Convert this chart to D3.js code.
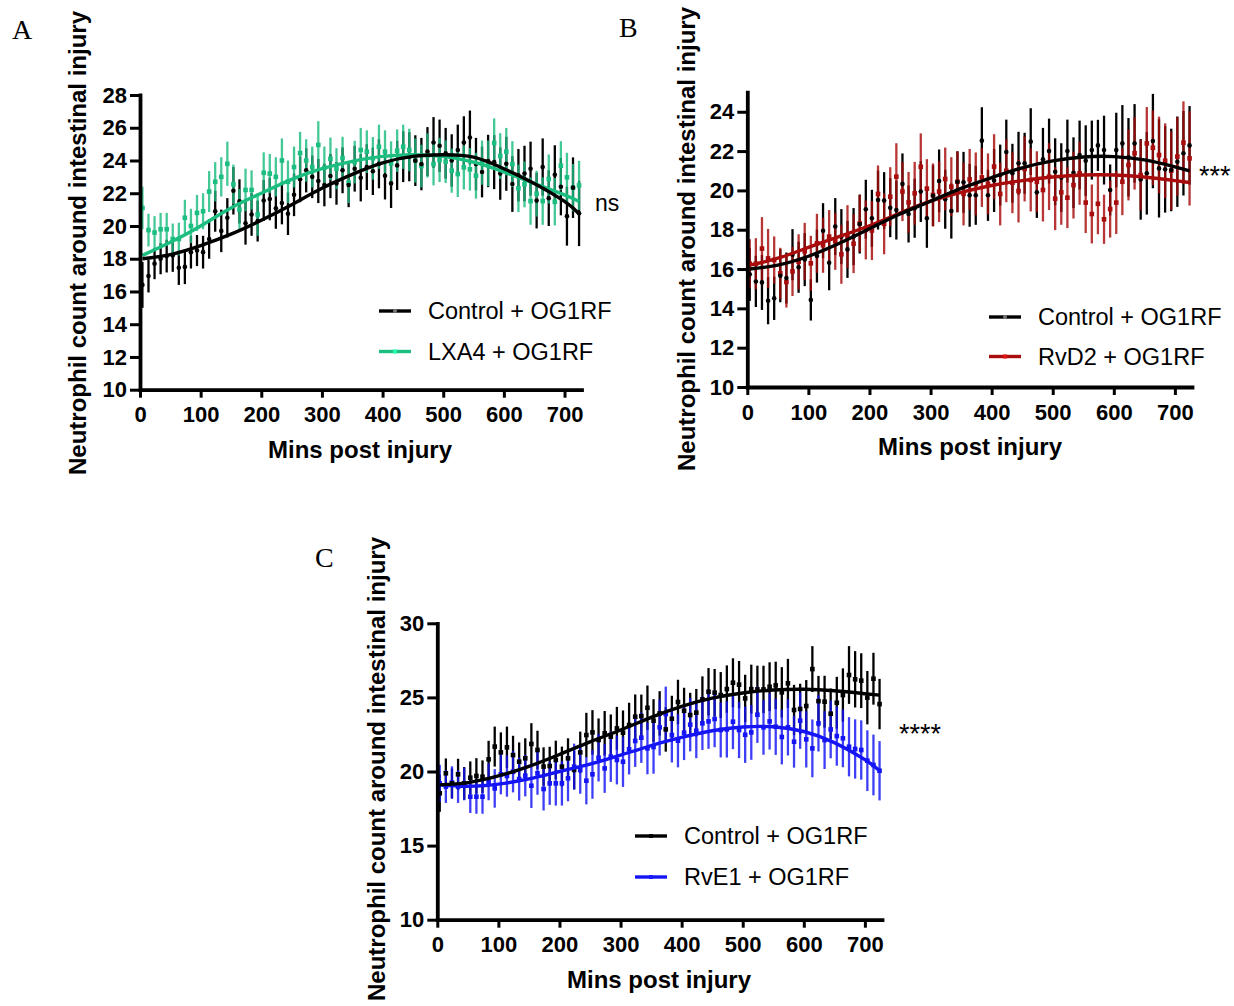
<!DOCTYPE html>
<html>
<head>
<meta charset="utf-8">
<script src="https://cdn.jsdelivr.net/npm/d3@7"></script>
<style>
  body { margin: 0; background: #fff; }
  svg { display: block; }
  text { font-family: "Liberation Sans", Arial, sans-serif; fill: #000; }
  .letter { font-family: "Liberation Serif", "Times New Roman", serif; font-size: 28px; }
  .ytitle, .xtitle { font-weight: bold; font-size: 24px; }
  .tick text { font-weight: bold; font-size: 22px; font-family: "Liberation Sans", Arial, sans-serif; }
  .legend { font-size: 23.5px; }
  .sig { font-size: 23px; }
  .stars { font-size: 27px; }
</style>
</head>
<body>
<svg id="fig" width="1234" height="1006"></svg>
<script>
// Sampling times (minutes after injury), shared by all groups
const minutes = [4, 14, 24, 34, 44, 54, 64, 74, 84, 94, 104, 114, 124, 134, 144, 154, 164, 174, 184, 194,
  204, 214, 224, 234, 244, 254, 264, 274, 284, 294, 304, 314, 324, 334, 344, 354, 364, 374, 384, 394,
  404, 414, 424, 434, 444, 454, 464, 474, 484, 494, 504, 514, 524, 534, 544, 554, 564, 574, 584, 594,
  604, 614, 624, 634, 644, 654, 664, 674, 684, 694, 704, 714, 724];

const xTicks = [0, 100, 200, 300, 400, 500, 600, 700];

// Panel A: Control vs LXA4 (mean, SEM)
const ctrlA = [16.4, 16.94, 17.7, 18.0, 18.16, 18.2, 17.45, 17.5, 18.4, 18.5, 18.4, 19.2, 20.9, 19.7, 20.5,
  22.15, 21.5, 20.16, 20.7, 20.3, 21.56, 21.65, 21.08, 21.4, 20.75, 21.9, 22.85, 23.4, 23.0, 22.75,
  22.5, 23.05, 22.6, 23.4, 22.5, 23.5, 22.95, 23.6, 23.34, 23.8, 23.07, 22.6, 23.7, 24.23, 24.23,
  23.99, 23.78, 24.54, 25.1, 24.9, 24.44, 24.0, 24.64, 25.1, 25.4, 23.78, 23.3, 23.97, 23.9, 23.2,
  23.8, 22.56, 23.1, 23.2, 23.5, 21.55, 23.6, 21.7, 23.13, 22.4, 20.6, 22.34, 20.77];
const ctrlAErr = [1.4, 1.0, 0.95, 0.95, 1.0, 1.0, 1.05, 1.05, 1.0, 0.95,
  1.0, 1.2, 1.25, 1.3, 1.2, 1.45, 1.35, 1.3, 1.3, 1.25,
  1.25, 1.3, 1.25, 1.3, 1.3, 1.3, 1.4, 1.35, 1.3, 1.35,
  1.3, 1.35, 1.3, 1.4, 1.35, 1.4, 1.45, 1.4, 1.45, 1.5,
  1.45, 1.5, 1.5, 1.55, 1.5, 1.55, 1.6, 1.5, 1.55, 1.6,
  1.55, 1.6, 1.55, 1.6, 1.65, 1.6, 1.55, 1.6, 1.65, 1.6,
  1.65, 1.7, 1.6, 1.7, 1.65, 1.7, 1.75, 1.7, 1.8, 1.75,
  1.8, 1.85, 2.0];
const lxa4 = [21.1, 19.75, 19.6, 19.8, 19.8, 19.2, 19.2, 20.5, 20.0, 20.8, 20.9, 22.1, 22.7, 23.0, 23.8,
  22.55, 21.0, 22.2, 22.2, 20.7, 23.25, 23.2, 23.0, 24.0, 22.7, 23.6, 24.45, 24.0, 23.6, 24.95,
  23.55, 24.1, 23.5, 24.15, 22.65, 23.9, 24.64, 24.54, 24.13, 24.84, 24.54, 23.82, 24.6, 24.84, 24.64,
  24.0, 23.66, 24.31, 23.78, 24.03, 23.93, 23.38, 23.17, 23.58, 23.46, 23.07, 23.87, 23.82, 25.07, 24.27,
  24.54, 23.78, 22.3, 22.54, 21.52, 21.97, 21.52, 22.87, 21.48, 23.68, 22.97, 22.34, 22.48];
const lxa4Err = [1.3, 1.0, 1.0, 1.0, 1.0, 0.95, 1.0, 1.1, 1.05, 1.1,
  1.1, 1.25, 1.2, 1.2, 1.35, 1.2, 1.25, 1.3, 1.2, 1.3,
  1.25, 1.2, 1.2, 1.35, 1.3, 1.25, 1.3, 1.3, 1.25, 1.45,
  1.3, 1.3, 1.25, 1.3, 1.25, 1.3, 1.35, 1.3, 1.3, 1.35,
  1.3, 1.35, 1.3, 1.35, 1.3, 1.35, 1.3, 1.35, 1.3, 1.35,
  1.3, 1.35, 1.4, 1.35, 1.3, 1.4, 1.35, 1.4, 1.5, 1.4,
  1.45, 1.4, 1.45, 1.4, 1.45, 1.4, 1.45, 1.5, 1.45, 1.5,
  1.5, 1.45, 1.5];

// Panel B: Control vs RvD2
const ctrlB = [15.73, 15.37, 15.32, 14.39, 14.51, 15.66, 15.54, 16.73, 16.09, 16.48, 14.43, 16.66, 17.95,
  16.32, 18.16, 17.65, 17.0, 17.65, 18.29, 19.04, 18.58, 19.51, 19.48, 19.12, 19.0, 20.33, 18.8,
  19.09, 19.94, 18.58, 19.73, 20.48, 19.55, 18.95, 20.44, 20.41, 19.75, 19.75, 22.53, 19.75, 20.5,
  20.78, 21.95, 20.87, 21.38, 21.38, 22.48, 19.9, 21.58, 22.0, 20.95, 20.65, 22.0, 20.9, 21.8, 21.51,
  22.05, 22.29, 22.05, 20.02, 22.05, 22.39, 21.68, 22.39, 20.56, 20.87, 22.51, 21.12, 21.07, 21.04,
  21.46, 21.89, 22.29];
const ctrlBErr = [1.35, 1.3, 1.4, 1.2, 1.1, 1.35, 1.3, 1.3, 1.3, 1.35,
  1.05, 1.35, 1.4, 1.4, 1.45, 1.4, 1.45, 1.45, 1.5, 1.5,
  1.45, 1.5, 1.45, 1.5, 1.5, 1.55, 1.45, 1.5, 1.55, 1.5,
  1.55, 1.6, 1.5, 1.4, 1.55, 1.55, 1.6, 1.5, 1.7, 1.3,
  1.6, 1.55, 1.65, 1.5, 1.6, 1.55, 1.7, 1.3, 1.6, 1.65,
  1.7, 1.75, 1.6, 1.8, 1.75, 1.8, 1.5, 1.3, 1.75, 1.3,
  1.9, 1.95, 2.0, 2.0, 2.05, 2.1, 2.4, 2.5, 2.2, 2.1,
  2.3, 2.15, 2.0];
const rvd2 = [16.27, 16.27, 17.04, 16.54, 16.46, 15.78, 15.34, 15.88, 16.37, 16.9, 16.29, 17.31, 17.21,
  17.65, 17.41, 16.75, 17.65, 17.29, 18.32, 17.99, 17.96, 19.82, 18.3, 19.68, 20.7, 19.94, 19.39,
  19.85, 21.2, 20.09, 19.77, 19.94, 20.58, 20.19, 20.44, 19.82, 20.56, 20.33, 20.66, 20.33, 21.21,
  19.82, 21.0, 20.39, 19.97, 21.09, 20.53, 20.44, 20.02, 20.7, 19.58, 19.9, 19.63, 20.27, 20.87,
  19.38, 18.8, 19.32, 18.53, 19.05, 19.38, 20.44, 21.29, 21.89, 20.78, 22.39, 22.17, 21.8, 21.51,
  21.0, 21.72, 22.43, 21.63];
const rvd2Err = [1.25, 1.3, 1.6, 1.5, 1.2, 1.3, 1.3, 1.25, 1.4, 1.45,
  1.4, 1.5, 1.4, 1.35, 1.45, 1.5, 1.6, 1.5, 1.45, 1.5,
  1.5, 1.45, 1.55, 1.5, 1.7, 1.5, 1.55, 1.6, 1.7, 1.5,
  1.6, 1.55, 1.6, 1.5, 1.55, 1.6, 1.55, 1.6, 1.5, 1.55,
  1.65, 1.6, 1.6, 1.55, 1.6, 1.65, 1.6, 1.55, 1.6, 1.7,
  1.6, 1.65, 1.55, 1.7, 1.6, 1.55, 1.5, 1.55, 1.25, 1.45,
  1.6, 1.7, 1.8, 1.85, 1.8, 1.85, 1.9, 1.95, 1.9, 2.0,
  2.0, 2.1, 2.4];

// Panel C: Control vs RvE1
const ctrlC = [18.53, 19.88, 19.2, 19.81, 19.2, 19.58, 19.7, 19.65, 20.82, 21.68, 21.29, 21.63, 21.11,
  20.66, 20.89, 21.86, 21.45, 20.33, 20.37, 20.78, 20.33, 20.89, 20.1, 21.29, 22.46, 22.64, 22.13,
  22.58, 22.35, 22.91, 22.62, 23.14, 23.7, 23.74, 24.3, 23.43, 23.92, 22.84, 23.56, 24.69, 24.1,
  23.81, 23.97, 24.87, 25.38, 25.32, 25.16, 25.56, 25.99, 25.86, 24.93, 25.56, 25.54, 25.54, 25.72,
  25.81, 25.34, 25.95, 24.15, 24.22, 24.42, 26.91, 24.75, 24.71, 23.9, 24.64, 25.16, 26.51, 26.22,
  26.13, 24.98, 26.26, 24.55];
const ctrlCErr = [1.25, 1.0, 1.0, 1.05, 1.1, 1.1, 1.2, 1.1, 1.25, 1.35,
  1.35, 1.4, 1.3, 1.3, 1.35, 1.4, 1.3, 1.3, 1.3, 1.3,
  1.35, 1.35, 1.3, 1.4, 1.5, 1.5, 1.45, 1.5, 1.5, 1.45,
  1.5, 1.5, 1.5, 1.45, 1.5, 1.45, 1.5, 1.5, 1.55, 1.5,
  1.55, 1.5, 1.6, 1.55, 1.6, 1.6, 1.55, 1.6, 1.65, 1.6,
  1.6, 1.65, 1.6, 1.6, 1.65, 1.6, 1.7, 1.65, 1.7, 1.7,
  1.75, 1.55, 1.7, 1.75, 1.7, 1.75, 1.8, 1.95, 1.9, 1.85,
  1.8, 1.75, 1.7];
const rve1 = [19.2, 18.98, 19.25, 18.98, 19.16, 18.3, 18.3, 18.3, 19.31, 18.86, 19.81, 19.7, 19.99,
  19.49, 19.72, 19.04, 19.88, 18.82, 19.2, 19.2, 19.2, 19.54, 20.33, 20.1, 19.38, 19.81, 20.93,
  20.21, 21.0, 20.78, 20.66, 21.5, 22.06, 22.28, 21.56, 21.65, 22.98, 23.88, 22.46, 22.08, 22.62,
  23.16, 22.75, 23.25, 23.38, 23.54, 22.8, 22.84, 23.36, 22.8, 22.48, 22.64, 23.83, 22.98, 23.38,
  23.02, 22.33, 22.98, 22.01, 23.43, 22.17, 21.56, 23.25, 22.12, 22.84, 22.39, 22.24, 21.67, 21.52,
  21.45, 20.73, 20.44, 20.05];
const rve1Err = [1.25, 1.1, 1.1, 1.1, 1.1, 1.1, 1.15, 1.15, 1.25, 1.3,
  1.35, 1.4, 1.4, 1.45, 1.4, 1.5, 1.45, 1.45, 1.45, 1.5,
  1.5, 1.55, 1.55, 1.6, 1.6, 1.65, 1.6, 1.65, 1.7, 1.65,
  1.7, 1.7, 1.75, 1.7, 1.75, 1.8, 1.9, 1.85, 1.85, 1.8,
  1.85, 1.8, 1.85, 1.8, 1.85, 1.9, 1.85, 1.9, 1.85, 1.9,
  1.9, 1.85, 1.9, 1.85, 1.9, 1.9, 1.85, 1.9, 1.75, 1.9,
  1.9, 1.95, 1.9, 1.95, 1.95, 2.0, 1.95, 2.0, 2.0, 2.0,
  2.05, 2.05, 2.0];

// Fitted trend curves, sampled along the time axis
const fitMinutes = [4, 50, 100, 150, 200, 250, 300, 350, 400, 450, 500, 550, 600, 650, 700, 724];
const ctrlAFit = [18.0, 18.25, 18.8, 19.5, 20.35, 21.3, 22.3, 23.15, 23.85, 24.25, 24.35, 24.2, 23.5, 22.6, 21.5, 20.75];
const lxa4Fit = [18.2, 19.0, 20.0, 21.1, 22.0, 22.85, 23.5, 23.95, 24.25, 24.35, 24.25, 23.9, 23.3, 22.6, 21.9, 21.5];
const ctrlBFit = [16.0, 16.2, 16.65, 17.3, 18.05, 18.8, 19.45, 20.1, 20.65, 21.15, 21.5, 21.7, 21.72, 21.55, 21.2, 20.99];
const rvd2Fit = [16.2, 16.55, 17.1, 17.65, 18.2, 18.85, 19.45, 19.9, 20.25, 20.5, 20.68, 20.78, 20.78, 20.68, 20.5, 20.4];
const ctrlCFit = [19.1, 19.25, 19.7, 20.35, 21.15, 22.0, 22.8, 23.65, 24.4, 24.95, 25.3, 25.5, 25.55, 25.45, 25.25, 25.15];
const rve1Fit = [19.1, 19.0, 19.15, 19.5, 20.0, 20.5, 21.1, 21.75, 22.3, 22.75, 23.0, 23.02, 22.7, 21.95, 20.8, 20.05];

const yTicksA = [10, 12, 14, 16, 18, 20, 22, 24, 26, 28];
const yTicksB = [10, 12, 14, 16, 18, 20, 22, 24];
const yTicksC = [10, 15, 20, 25, 30];

const yTitle = "Neutrophil count around intestinal injury";
const xTitle = "Mins post injury";

const svg = d3.select("#fig");

function drawPanel(cfg) {
  const x = d3.scaleLinear().domain([0, 728]).range([cfg.left, cfg.right]);
  const y = d3.scaleLinear().domain(cfg.yDomain).range([cfg.bottom, cfg.top]);
  const g = svg.append("g");

  g.append("text").attr("class", "letter")
    .attr("x", cfg.letterX).attr("y", cfg.letterY).text(cfg.letter);

  const control = cfg.series[0], treat = cfg.series[1];
  const rows = s => minutes.map((m, i) => ({ m, v: s.values[i], e: s.err[i] }));

  // error bars: control underneath, treatment on top
  [control, treat].forEach(s => {
    g.append("g").selectAll("line").data(rows(s)).join("line")
      .attr("x1", d => x(d.m)).attr("x2", d => x(d.m))
      .attr("y1", d => y(d.v - d.e)).attr("y2", d => y(d.v + d.e))
      .attr("stroke", s.color).attr("stroke-width", 2.3)
      .attr("opacity", s === treat ? 0.82 : 1);
  });

  // mean markers
  [treat, control].forEach(s => {
    const mg = g.append("g");
    if (s.marker === "circle") {
      mg.selectAll("circle").data(rows(s)).join("circle")
        .attr("cx", d => x(d.m)).attr("cy", d => y(d.v)).attr("r", 2.3)
        .attr("fill", s.color);
    } else {
      mg.selectAll("rect").data(rows(s)).join("rect")
        .attr("x", d => x(d.m) - 2.3).attr("y", d => y(d.v) - 2.3)
        .attr("width", 4.6).attr("height", 4.6).attr("fill", s.color);
    }
  });

  // fitted curves
  const line = d3.line().x(d => x(d[0])).y(d => y(d[1])).curve(d3.curveNatural);
  [treat, control].forEach(s => {
    g.append("path").datum(fitMinutes.map((m, i) => [m, s.fit[i]]))
      .attr("d", line).attr("fill", "none")
      .attr("stroke", s.color).attr("stroke-width", 3.4);
  });

  // axes
  const ya = g.append("g").attr("transform", `translate(${cfg.left},0)`)
    .call(d3.axisLeft(y).tickValues(cfg.yTicks).tickSize(10).tickSizeOuter(0).tickPadding(3));
  const xa = g.append("g").attr("transform", `translate(0,${cfg.bottom})`)
    .call(d3.axisBottom(x).tickValues(xTicks).tickSize(8).tickSizeOuter(0).tickPadding(9));
  [ya, xa].forEach(a => {
    a.select(".domain").attr("stroke", "#000").attr("stroke-width", 3.8).attr("stroke-linecap", "square");
    a.selectAll(".tick line").attr("stroke", "#000").attr("stroke-width", 3);
    a.selectAll(".tick text").attr("fill", "#000");
  });

  g.append("text").attr("class", "ytitle")
    .attr("transform", `translate(${cfg.yTitleX},${cfg.yTitleY}) rotate(-90)`)
    .attr("text-anchor", "middle").text(yTitle);
  g.append("text").attr("class", "xtitle")
    .attr("x", cfg.xTitleX).attr("y", cfg.xTitleY)
    .attr("text-anchor", "middle").text(xTitle);

  // legend
  [control, treat].forEach((s, k) => {
    const ly = cfg.legendY[k];
    g.append("line").attr("x1", cfg.legendX).attr("x2", cfg.legendX + 32)
      .attr("y1", ly).attr("y2", ly).attr("stroke", s.color).attr("stroke-width", 3.4);
    if (s.marker === "circle") {
      g.append("circle").attr("cx", cfg.legendX + 16).attr("cy", ly).attr("r", 2)
        .attr("fill", "#777");
    } else {
      g.append("rect").attr("x", cfg.legendX + 14).attr("y", ly - 2)
        .attr("width", 4).attr("height", 4).attr("fill", d3.color(s.color).brighter(0.8));
    }
    g.append("text").attr("class", "legend")
      .attr("x", cfg.legendX + 49).attr("y", ly + 8).text(s.label);
  });

  g.append("text").attr("class", cfg.sig === "ns" ? "sig" : "stars")
    .attr("x", cfg.sigX).attr("y", cfg.sigY).text(cfg.sig);
}

drawPanel({
  letter: "A", letterX: 12, letterY: 39,
  left: 140, right: 581.5, top: 95, bottom: 389.7,
  yDomain: [10, 28], yTicks: yTicksA,
  yTitleX: 86, yTitleY: 243, xTitleX: 360, xTitleY: 458,
  legendX: 379, legendY: [311, 351.5],
  sig: "ns", sigX: 595, sigY: 211,
  series: [
    { values: ctrlA, err: ctrlAErr, fit: ctrlAFit, color: "#000000", marker: "circle", label: "Control + OG1RF" },
    { values: lxa4, err: lxa4Err, fit: lxa4Fit, color: "#1cbe80", marker: "square", label: "LXA4 + OG1RF" }
  ]
});

drawPanel({
  letter: "B", letterX: 619, letterY: 37,
  left: 747.3, right: 1192, top: 92.1, bottom: 387,
  yDomain: [10, 25], yTicks: yTicksB,
  yTitleX: 695, yTitleY: 239, xTitleX: 970, xTitleY: 455,
  legendX: 989, legendY: [317, 356.5],
  sig: "***", sigX: 1199, sigY: 185,
  series: [
    { values: ctrlB, err: ctrlBErr, fit: ctrlBFit, color: "#000000", marker: "circle", label: "Control + OG1RF" },
    { values: rvd2, err: rvd2Err, fit: rvd2Fit, color: "#a80c0c", marker: "square", label: "RvD2 + OG1RF" }
  ]
});

drawPanel({
  letter: "C", letterX: 315, letterY: 567,
  left: 437.3, right: 882, top: 623.3, bottom: 919.7,
  yDomain: [10, 30], yTicks: yTicksC,
  yTitleX: 385, yTitleY: 769, xTitleX: 659, xTitleY: 988,
  legendX: 635, legendY: [836, 877],
  sig: "****", sigX: 899, sigY: 743,
  series: [
    { values: ctrlC, err: ctrlCErr, fit: ctrlCFit, color: "#000000", marker: "square", label: "Control + OG1RF" },
    { values: rve1, err: rve1Err, fit: rve1Fit, color: "#1414f5", marker: "square", label: "RvE1 + OG1RF" }
  ]
});
</script>
</body>
</html>
